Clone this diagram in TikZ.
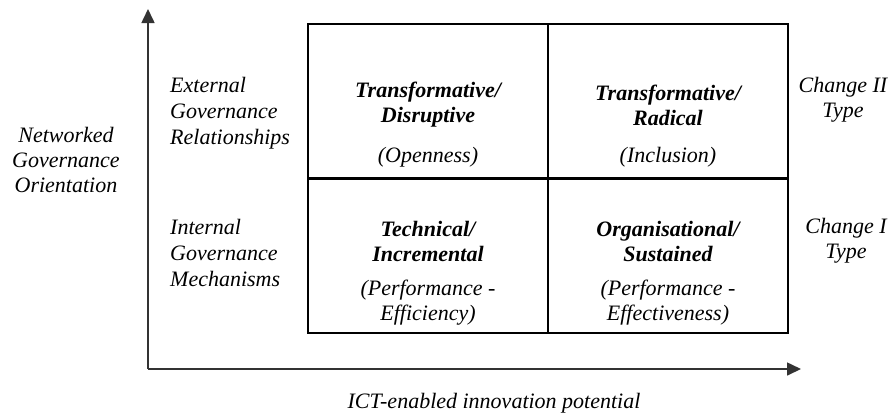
\documentclass[tikz,border=0pt]{standalone}
\usepackage{fontspec}
\setmainfont{Liberation Serif}
\usetikzlibrary{arrows.meta}

\tikzstyle{cell} = [draw=black, line width=2.2, minimum width=240, minimum height=154, inner sep=0]
\tikzstyle{title} = [font={\fontsize{22}{25}\selectfont\bfseries\itshape}, align=center, inner sep=0]
\tikzstyle{note} = [font={\fontsize{22}{25}\selectfont\itshape}, align=center, inner sep=0]
\tikzstyle{side} = [font={\fontsize{22}{26}\selectfont\itshape}, align=left, inner sep=0, anchor=west]
\tikzstyle{axis} = [draw=black!80, line width=1.6, -{Triangle[length=14pt,width=13pt]}]

\begin{document}
\begin{tikzpicture}[x=1pt,y=-1pt]
\useasboundingbox (0,0) rectangle (890,416);

\node [cell] (c1) at (428,101) {};
\node [cell] (c2) at (668,101) {};
\node [cell] (c3) at (428,256) {};
\node [cell] (c4) at (668,256) {};

\node [title] (t1) at (428,105) {Transformative/\\Disruptive};
\node [note] (n1) at (428,157) {(Openness)};
\node [title] (t2) at (668,105) {Transformative/\\Radical};
\node [note] (n2) at (668,157) {(Inclusion)};
\node [title] (t3) at (428,241) {Technical/\\Incremental};
\node [note] (n3) at (428,303) {(Performance -\\Efficiency)};
\node [title] (t4) at (668,241) {Organisational/\\Sustained};
\node [note] (n4) at (668,303) {(Performance -\\Effectiveness)};

\node [side] (ext) at (170,113) {External\\Governance\\Relationships};
\node [side] (int) at (170,253) {Internal\\Governance\\Mechanisms};
\node [note] (ngo) at (66,160) {Networked\\Governance\\Orientation};
\node [note] (ch2) at (843,100) {Change II\\Type};
\node [note] (ch1) at (846,241) {Change I\\Type};
\node [note] (ict) at (494,403) {ICT-enabled innovation potential};

\coordinate (o) at (148,369);
\coordinate (ytip) at (148,9);
\coordinate (xtip) at (801,369);
\draw [axis] (o) -- (ytip);
\draw [axis] (o) -- (xtip);
\end{tikzpicture}
\end{document}
